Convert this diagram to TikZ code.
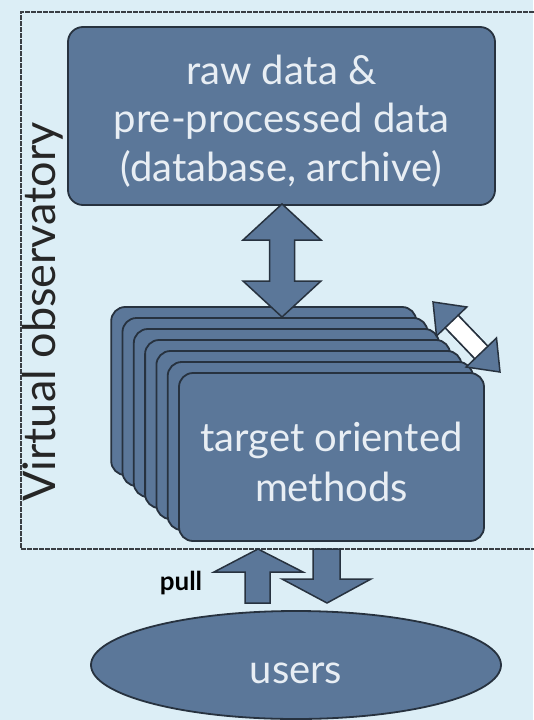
\documentclass[tikz,border=0pt]{standalone}
\usepackage{fontspec}
\setmainfont{Lato}
\usetikzlibrary{shapes.geometric}
\definecolor{bg}{HTML}{DCEEF6}
\definecolor{boxfill}{HTML}{5B7799}
\definecolor{boxline}{HTML}{27323F}
\definecolor{txt}{HTML}{E8EEF4}
\definecolor{framecol}{HTML}{3A3E44}
\begin{document}
\begin{tikzpicture}[x=1pt,y=-1pt,
  blockbox/.style={draw=boxline, line width=1.8pt, fill=boxfill, rounded corners=15pt, inner sep=0pt},
  cardbox/.style={draw=boxline, line width=1.8pt, fill=boxfill, rounded corners=14pt},
  blockarrow/.style={draw=boxline, line width=1.5pt, fill=boxfill, line join=miter},
  whiteshaft/.style={draw=boxline, line width=1.5pt, fill=white},
  frameline/.style={draw=framecol, line width=2pt, dash pattern=on 5pt off 1pt},
  labeltxt/.style={text=txt, inner sep=0pt, align=center}
]
\fill[bg] (0,0) rectangle (533,720);
\useasboundingbox (0,0) rectangle (533,720);

% dotted frame of the virtual observatory
\draw[frameline] (560,549) -- (21,549) -- (21,12) -- (560,12);
\node[rotate=90, anchor=base, font=\fontsize{45}{50}\selectfont, text=black!85, inner sep=0pt] (vo) at (55,312) {Virtual observatory};

% top box
\node[blockbox, minimum width=427pt, minimum height=178pt] (raw) at (281.5,116) {};
\node[labeltxt, font=\fontsize{40}{48.5}\selectfont] (rawtxt) at (281.5,121) {raw data \&\\pre-processed data\\(database, archive)};

% stack of method cards (back to front)
\foreach \k in {6,5,4,3,2,1,0}{
  \path[cardbox] (179-11.3*\k,373-11*\k) rectangle ++(305,168);
}
\node[minimum width=305pt, minimum height=168pt, inner sep=0pt] (methods) at (331.5,457) {};
\node[labeltxt, font=\fontsize{40}{50}\selectfont] (methtxt) at (331.5,462) {target oriented\\methods};

% vertical double arrow between data and methods
\coordinate (vtop) at (282,204);
\coordinate (vbot) at (282,317);
\path[blockarrow] (vtop) -- (243,240) -- (269.5,240) -- (269.5,281) -- (243,281) -- (vbot)
  -- (321,281) -- (294.5,281) -- (294.5,240) -- (321,240) -- cycle;

% diagonal double arrow at the stack
\coordinate (dtop) at (433,302);
\coordinate (dbot) at (500,372);
\path[blockarrow] (dtop) -- (466.84,306.98) -- (458.17,315.28) -- (487.83,346.28) -- (496.5,337.98) -- (dbot)
  -- (466.16,367.02) -- (474.83,358.72) -- (445.17,327.72) -- (436.5,336.02) -- cycle;
\path[whiteshaft] (458.17,315.28) -- (487.83,346.28) -- (474.83,358.72) -- (445.17,327.72) -- cycle;

% users
\node[ellipse, draw=boxline, line width=1.8pt, fill=boxfill, minimum width=410pt, minimum height=108pt, inner sep=0pt] (users) at (296,665) {};
\node[labeltxt, font=\fontsize{40}{48}\selectfont] (userstxt) at (296,673) {users};

% pull / push arrows
\coordinate (uptip) at (258,549);
\path[blockarrow] (uptip) -- (303,572) -- (270,572) -- (270,603) -- (245,603) -- (245,572) -- (214,572) -- cycle;
\coordinate (downtip) at (327,603);
\path[blockarrow] (313,549) -- (340,549) -- (340,579) -- (371,579) -- (downtip) -- (282,579) -- (313,579) -- cycle;
\node[font=\fontsize{26}{30}\selectfont\bfseries, inner sep=0pt] (pull) at (181,583) {pull};
\end{tikzpicture}
\end{document}
